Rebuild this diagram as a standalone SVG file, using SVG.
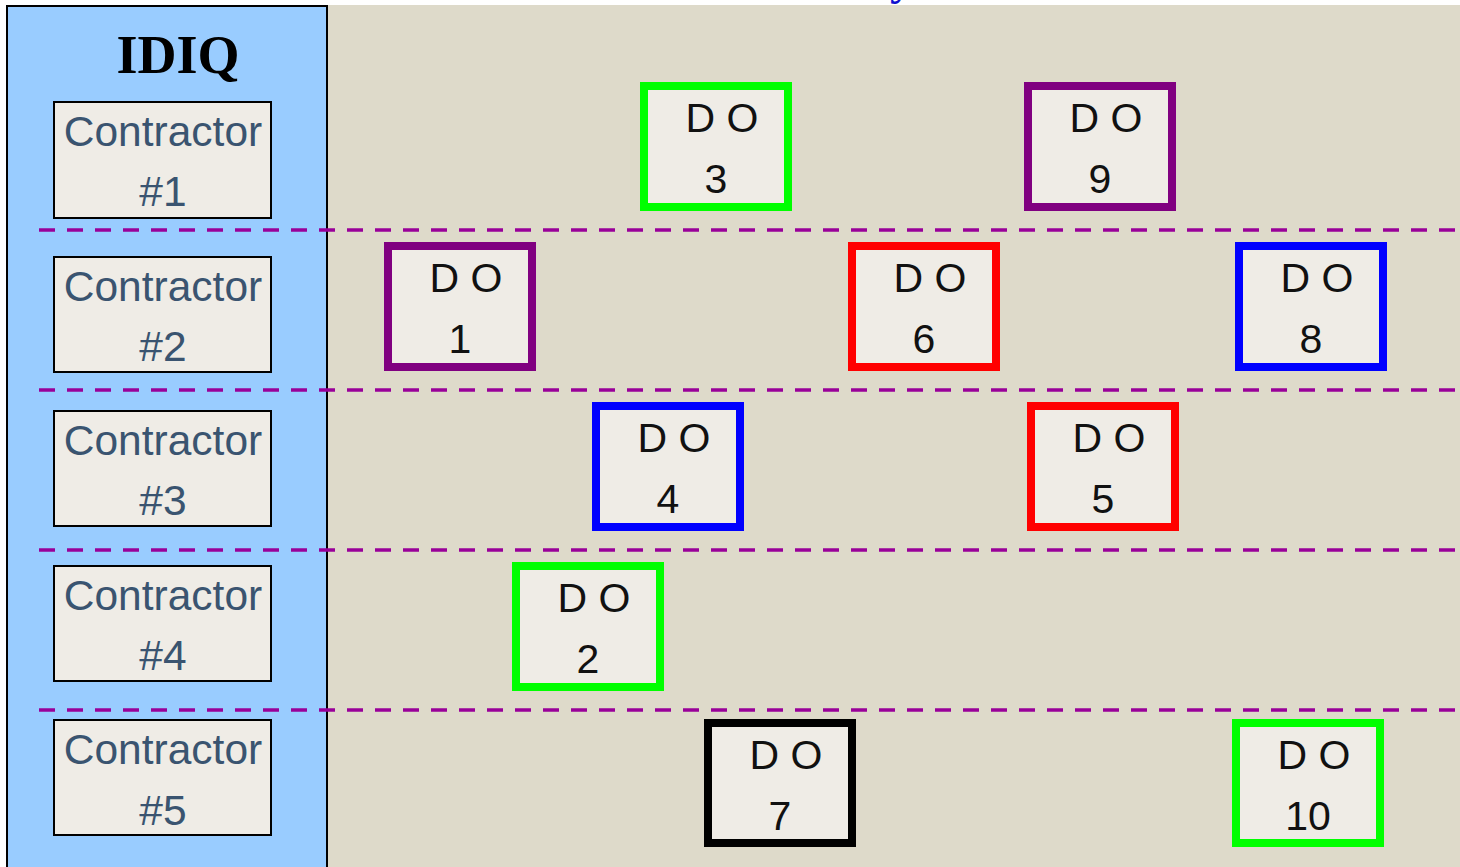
<svg xmlns="http://www.w3.org/2000/svg" width="1460" height="867" viewBox="0 0 1460 867">
<style>
.ctr rect{fill:#EFECE6;stroke:#000;stroke-width:2}
.ctr text{font-family:"Liberation Sans",Arial,sans-serif;font-size:42.5px;fill:#3A5470;text-anchor:middle}
.do rect{fill:#EFECE6;stroke-width:8}
.do text{font-family:"Liberation Sans",Arial,sans-serif;font-size:41px;fill:#111;text-anchor:middle}
.sep{stroke:#990099;stroke-width:3.5;stroke-dasharray:16 12;fill:none}
</style>
<rect x="0" y="0" width="1460" height="867" fill="#fff"/>
<rect x="328" y="5" width="1132" height="862" fill="#DEDACA"/>
<text x="890" y="-6" font-family="'Liberation Serif',serif" font-weight="bold" font-size="46" fill="#1010D0">y</text>
<g id="idiq-panel">
<rect x="7" y="6" width="320" height="870" fill="#99CCFF" stroke="#000" stroke-width="2"/>
<text x="178" y="73" font-family="'Liberation Serif','Times New Roman',serif" font-weight="bold" font-size="54" text-anchor="middle" fill="#000">IDIQ</text>
</g>
<g id="separators">
<line class="sep" x1="39" y1="230" x2="1460" y2="230"/>
<line class="sep" x1="39" y1="390" x2="1460" y2="390"/>
<line class="sep" x1="39" y1="550" x2="1460" y2="550"/>
<line class="sep" x1="39" y1="710" x2="1460" y2="710"/>
</g>
<g id="contractor1" class="ctr"><rect x="54" y="102" width="217" height="116"/><text x="163" y="146">Contractor</text><text x="163" y="206">#1</text></g>
<g id="contractor2" class="ctr"><rect x="54" y="257" width="217" height="115"/><text x="163" y="301">Contractor</text><text x="163" y="361">#2</text></g>
<g id="contractor3" class="ctr"><rect x="54" y="411" width="217" height="115"/><text x="163" y="455">Contractor</text><text x="163" y="515">#3</text></g>
<g id="contractor4" class="ctr"><rect x="54" y="566" width="217" height="115"/><text x="163" y="610">Contractor</text><text x="163" y="670">#4</text></g>
<g id="contractor5" class="ctr"><rect x="54" y="720" width="217" height="115"/><text x="163" y="764">Contractor</text><text x="163" y="825">#5</text></g>

<g id="do3" class="do"><rect x="644" y="86" width="144" height="121" stroke="#00FF00"/><text x="722" y="132">D O</text><text x="716" y="193">3</text></g>
<g id="do9" class="do"><rect x="1028" y="86" width="144" height="121" stroke="#800080"/><text x="1106" y="132">D O</text><text x="1100" y="193">9</text></g>
<g id="do1" class="do"><rect x="388" y="246" width="144" height="121" stroke="#800080"/><text x="466" y="292">D O</text><text x="460" y="353">1</text></g>
<g id="do6" class="do"><rect x="852" y="246" width="144" height="121" stroke="#FF0000"/><text x="930" y="292">D O</text><text x="924" y="353">6</text></g>
<g id="do8" class="do"><rect x="1239" y="246" width="144" height="121" stroke="#0000FF"/><text x="1317" y="292">D O</text><text x="1311" y="353">8</text></g>
<g id="do4" class="do"><rect x="596" y="406" width="144" height="121" stroke="#0000FF"/><text x="674" y="452">D O</text><text x="668" y="513">4</text></g>
<g id="do5" class="do"><rect x="1031" y="406" width="144" height="121" stroke="#FF0000"/><text x="1109" y="452">D O</text><text x="1103" y="513">5</text></g>
<g id="do2" class="do"><rect x="516" y="566" width="144" height="121" stroke="#00FF00"/><text x="594" y="612">D O</text><text x="588" y="673">2</text></g>
<g id="do7" class="do"><rect x="708" y="723" width="144" height="120" stroke="#000000"/><text x="786" y="769">D O</text><text x="780" y="830">7</text></g>
<g id="do10" class="do"><rect x="1236" y="723" width="144" height="120" stroke="#00FF00"/><text x="1314" y="769">D O</text><text x="1308" y="830">10</text></g>
</svg>
